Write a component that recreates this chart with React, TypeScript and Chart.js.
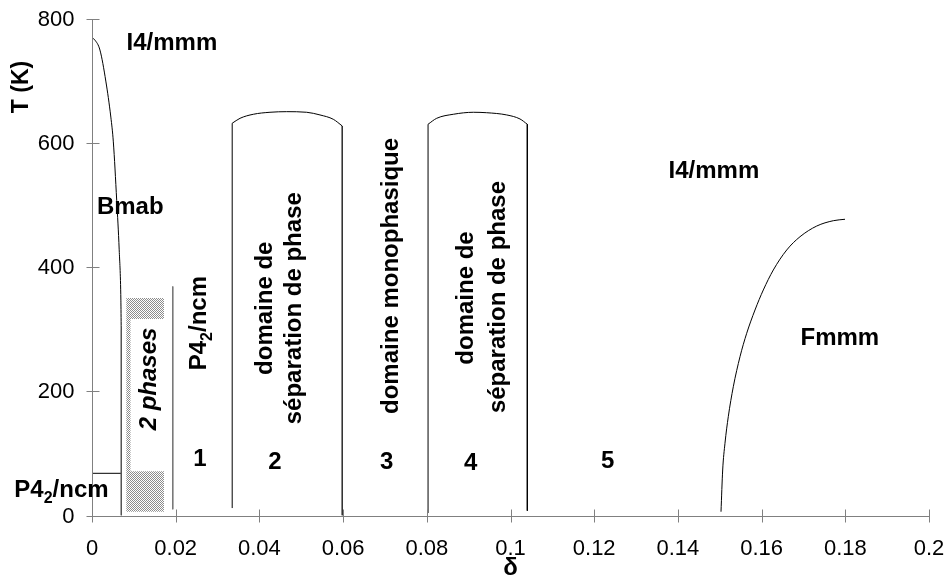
import React, { useEffect, useRef } from 'react';
import { Chart, registerables } from 'chart.js';

Chart.register(...registerables);

// ---- axis ticks ----
const xTicks = [0, 0.02, 0.04, 0.06, 0.08, 0.1, 0.12, 0.14, 0.16, 0.18, 0.2];
const xTickLabels = ['0', '0.02', '0.04', '0.06', '0.08', '0.1', '0.12', '0.14', '0.16', '0.18', '0.2'];
const yTicks = [0, 200, 400, 600, 800];
const yTickLabels = ['0', '200', '400', '600', '800'];

// ---- phase boundaries (delta, T) ----
const bmabDelta = [0, 0.0007, 0.0019, 0.0033, 0.0045, 0.0051, 0.0059, 0.0065, 0.0069, 0.00698];
const bmabT = [770, 766, 750, 700, 642, 602, 508, 428, 347, 300];

const lowVertDelta = [0.007, 0.007];
const lowVertT = [300, 0];

const p42LineDelta = [0, 0.007];
const p42LineT = [68, 68];

const greyLineDelta = [0.0193, 0.0193];
const greyLineT = [369, 10];

const dom2LeftDelta = [0.0335, 0.0335];
const dom2LeftT = [12, 632];
const dom2ArcDelta = [0.0335, 0.03537, 0.03855, 0.04253, 0.04652, 0.0513, 0.05448, 0.05766, 0.0598];
const dom2ArcT = [632, 640, 646.5, 649.7, 650.7, 649.7, 645.4, 638.4, 627.6];
const dom2RightDelta = [0.0598, 0.0598];
const dom2RightT = [627.6, 0];

const dom4LeftDelta = [0.0803, 0.0803];
const dom4LeftT = [4, 630.4];
const dom4ArcDelta = [0.0803, 0.08236, 0.08634, 0.09112, 0.09431, 0.0991, 0.10227, 0.10402];
const dom4ArcT = [630.4, 640, 646.5, 649.7, 649, 645.4, 638.9, 630.4];
const dom4RightDelta = [0.10402, 0.10402];
const dom4RightT = [630.4, 7.7];

const fmmmDelta = [0.1503, 0.1507, 0.15125, 0.15204, 0.15324, 0.15484, 0.15644, 0.15842, 0.16041, 0.1628, 0.166, 0.16918, 0.17317, 0.17713, 0.17993];
const fmmmT = [6.1, 73.3, 116.3, 159.2, 207.5, 255.9, 293.6, 331.1, 363.4, 395.6, 427.8, 449.2, 466.4, 475, 477.3];

// two-phase hatched box and its white inner part
const hatchDelta = [0.0082, 0.0172, 0.0172, 0.0082, 0.0082];
const hatchT = [6, 6, 350.4, 350.4, 6];
const innerDelta = [0.0092, 0.0174, 0.0174, 0.0092, 0.0092];
const innerT = [71.3, 71.3, 316.6, 316.6, 71.3];

// ---- annotations (text, delta, T, rotated, italic) ----
type Piece = { t: string; sub?: boolean };
const labelTexts: Piece[][] = [
  [{ t: 'I4/mmm' }],
  [{ t: 'Bmab' }],
  [{ t: 'P4' }, { t: '2', sub: true }, { t: '/ncm' }],
  [{ t: '2 phases' }],
  [{ t: 'P4' }, { t: '2', sub: true }, { t: '/ncm' }],
  [{ t: '1' }],
  [{ t: 'domaine de' }],
  [{ t: 'séparation de phase' }],
  [{ t: '2' }],
  [{ t: 'domaine monophasique' }],
  [{ t: '3' }],
  [{ t: 'domaine de' }],
  [{ t: 'séparation de phase' }],
  [{ t: '4' }],
  [{ t: '5' }],
  [{ t: 'I4/mmm' }],
  [{ t: 'Fmmm' }],
];
const labelDelta = [0.0191, 0.00915, -0.0073, 0.01326, 0.0253, 0.0258, 0.0409, 0.048, 0.0437, 0.0712, 0.0704, 0.0891, 0.0967, 0.0905, 0.1232, 0.1486, 0.1787];
const labelT = [763, 498.7, 44.3, 220, 310, 92.7, 334, 334, 89.4, 386, 89.4, 350.5, 352, 86.6, 90.8, 556.7, 289];
const labelRot = [false, false, false, true, true, false, true, true, false, true, false, true, true, false, false, false, false];
const labelItalic = [false, false, false, true, false, false, false, false, false, false, false, false, false, false, false, false, false];

const FONT = '"Liberation Sans", Arial, sans-serif';

function pts(xs: number[], ys: number[]) {
  return xs.map((x, i) => ({ x, y: ys[i] }));
}

function drawPieces(ctx: CanvasRenderingContext2D, pieces: Piece[], cx: number, cy: number, rot: boolean, italic: boolean) {
  const base = `${italic ? 'italic ' : ''}bold 24px ${FONT}`;
  const sub = `${italic ? 'italic ' : ''}bold 16px ${FONT}`;
  let total = 0;
  const widths = pieces.map((p) => {
    ctx.font = p.sub ? sub : base;
    const w = ctx.measureText(p.t).width;
    total += w;
    return w;
  });
  ctx.save();
  ctx.translate(cx, cy);
  if (rot) ctx.rotate(-Math.PI / 2);
  ctx.textAlign = 'left';
  ctx.textBaseline = 'alphabetic';
  let x = -total / 2;
  const baseY = 8.5;
  pieces.forEach((p, i) => {
    ctx.font = p.sub ? sub : base;
    ctx.fillText(p.t, x, p.sub ? baseY + 6 : baseY);
    x += widths[i];
  });
  ctx.restore();
}

const overlayPlugin = {
  id: 'overlay',
  afterDraw(chart: any) {
    const { ctx, chartArea: a, scales } = chart;
    const xs = scales.x;
    const ys = scales.y;
    ctx.save();
    ctx.strokeStyle = '#808080';
    ctx.lineWidth = 1;
    const L = Math.round(a.left) + 0.5;
    const B = Math.round(a.bottom) + 0.5;
    ctx.beginPath();
    ctx.moveTo(L, Math.round(a.top) + 0.5);
    ctx.lineTo(L, B);
    ctx.lineTo(Math.round(a.right) + 0.5, B);
    yTicks.forEach((v) => {
      const py = Math.round(ys.getPixelForValue(v)) + 0.5;
      ctx.moveTo(L - 6, py);
      ctx.lineTo(L + 7, py);
    });
    xTicks.forEach((v) => {
      const px = Math.round(xs.getPixelForValue(v)) + 0.5;
      ctx.moveTo(px, B - 7);
      ctx.lineTo(px, B + 6);
    });
    ctx.stroke();

    ctx.fillStyle = '#000';
    ctx.font = `22px ${FONT}`;
    ctx.textAlign = 'right';
    ctx.textBaseline = 'middle';
    yTicks.forEach((v, i) => ctx.fillText(yTickLabels[i], L - 18, ys.getPixelForValue(v) + 1));
    ctx.textAlign = 'center';
    xTicks.forEach((v, i) => ctx.fillText(xTickLabels[i], xs.getPixelForValue(v), B + 32));

    // axis titles
    ctx.font = `bold 23px ${FONT}`;
    ctx.save();
    ctx.translate(a.left - 70, a.top + 68);
    ctx.rotate(-Math.PI / 2);
    ctx.fillText('T (K)', 0, 0);
    ctx.restore();
    ctx.font = `bold 24px ${FONT}`;
    ctx.fillText('δ', (a.left + a.right) / 2, B + 52);

    labelTexts.forEach((pieces, i) => {
      drawPieces(ctx, pieces, xs.getPixelForValue(labelDelta[i]), ys.getPixelForValue(labelT[i]), labelRot[i], labelItalic[i]);
    });
    ctx.restore();
  },
};

export default function App() {
  const ref = useRef<HTMLCanvasElement | null>(null);
  useEffect(() => {
    document.body.style.margin = '0';
    const canvas = ref.current!;
    const pc = document.createElement('canvas');
    pc.width = 2;
    pc.height = 2;
    const pctx = pc.getContext('2d')!;
    pctx.fillStyle = '#ffffff';
    pctx.fillRect(0, 0, 2, 2);
    pctx.fillStyle = '#8c8c8c';
    pctx.fillRect(0, 0, 1, 1);
    pctx.fillRect(1, 1, 1, 1);
    const pattern = canvas.getContext('2d')!.createPattern(pc, 'repeat')!;

    const line = (xs: number[], ys: number[], color = '#000000', smooth = false) => ({
      data: pts(xs, ys),
      borderColor: color,
      borderWidth: 1,
      pointRadius: 0,
      fill: false,
      tension: 0,
      cubicInterpolationMode: smooth ? 'monotone' : 'default',
    });

    const chart = new Chart(canvas, {
      type: 'line',
      data: {
        datasets: [
          line(bmabDelta, bmabT, '#000000', true),
          line(lowVertDelta, lowVertT, '#555555'),
          line(p42LineDelta, p42LineT),
          line(greyLineDelta, greyLineT, '#777777'),
          line(dom2LeftDelta, dom2LeftT),
          line(dom2ArcDelta, dom2ArcT, '#000000', true),
          line(dom2RightDelta, dom2RightT, '#333333'),
          line(dom4LeftDelta, dom4LeftT),
          line(dom4ArcDelta, dom4ArcT, '#000000', true),
          line(dom4RightDelta, dom4RightT),
          line(fmmmDelta, fmmmT, '#000000', true),
          {
            data: pts(innerDelta, innerT),
            borderWidth: 0,
            borderColor: 'rgba(0,0,0,0)',
            backgroundColor: '#ffffff',
            pointRadius: 0,
            fill: 'shape',
            tension: 0,
          },
          {
            data: pts(hatchDelta, hatchT),
            borderWidth: 0,
            borderColor: 'rgba(0,0,0,0)',
            backgroundColor: pattern,
            pointRadius: 0,
            fill: 'shape',
            tension: 0,
          },
        ] as any,
      },
      options: {
        animation: false,
        responsive: false,
        devicePixelRatio: 1,
        layout: { padding: { left: 92, right: 17, top: 19, bottom: 60.5 } },
        plugins: { legend: { display: false }, tooltip: { enabled: false } },
        scales: {
          x: { type: 'linear', min: 0, max: 0.2, display: false },
          y: { type: 'linear', min: 0, max: 800, display: false },
        },
      },
      plugins: [overlayPlugin],
    });
    return () => chart.destroy();
  }, []);
  return (
    <div style={{ width: 946, height: 576 }}>
      <canvas ref={ref} width={946} height={576} style={{ display: 'block' }} />
    </div>
  );
}
